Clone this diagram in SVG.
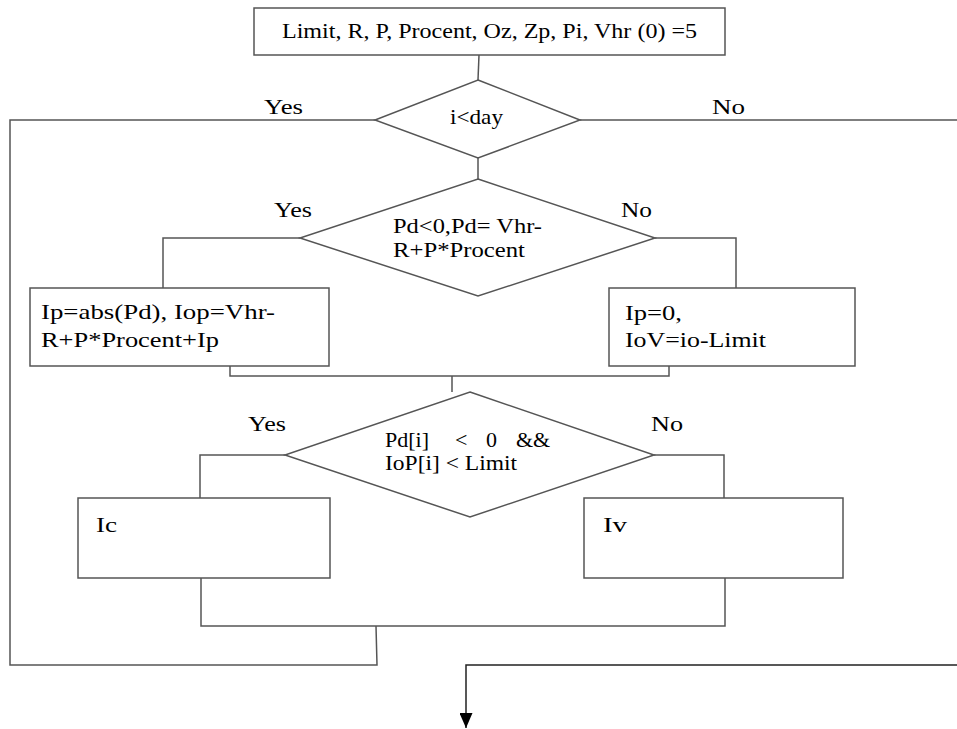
<svg xmlns="http://www.w3.org/2000/svg" width="957" height="729" viewBox="0 0 957 729">
<defs>
<style>
.s{fill:#fff;stroke:#555;stroke-width:1.5}
.c{fill:none;stroke:#555;stroke-width:1.5}
.t{font-family:'Liberation Serif','Times New Roman',serif;font-size:22px;fill:#000}
</style>
<marker id="ah" markerWidth="13" markerHeight="15" refX="6.5" refY="15" orient="0" markerUnits="userSpaceOnUse" viewBox="0 0 13 15">
<path d="M0,0 L13,0 L6.5,15 Z" fill="#000"/>
</marker>
</defs>
<rect width="957" height="729" fill="#fff"/>
<g id="connectors">
<path class="c" d="M479,55 L478,80"/>
<path class="c" d="M375,120 L10,120 L10,665 L377,665 L376,626"/>
<path class="c" d="M580,120 L957,120"/>
<path class="c" d="M478,158 L478,179"/>
<path class="c" d="M300,238 L163,238 L163,288"/>
<path class="c" d="M655,238 L736,238 L736,288"/>
<path class="c" d="M230,366 L230,376 L669,376 L669,366"/>
<path class="c" d="M452,376 L452,392"/>
<path class="c" d="M285,455 L200,455 L200,498"/>
<path class="c" d="M654,455 L724,455 L724,498"/>
<path class="c" d="M201,578 L201,626 L725,626 L725,578"/>
<path d="M957,665 L466,665 L466,728" fill="none" stroke="#222" stroke-width="1.5" marker-end="url(#ah)"/>
</g>
<g class="t">
<g id="init">
<rect class="s" x="254" y="8" width="471" height="47"/>
<text x="282" y="38" textLength="415" lengthAdjust="spacingAndGlyphs">Limit, R, P, Procent, Oz, Zp, Pi, Vhr (0) =5</text>
</g>
<g id="d1">
<polygon class="s" points="478,80 580,120 478,158 375,120"/>
<text x="450" y="124" textLength="53" lengthAdjust="spacingAndGlyphs">i&lt;day</text>
<text x="264" y="114" textLength="39" lengthAdjust="spacingAndGlyphs">Yes</text>
<text x="712" y="114" textLength="33" lengthAdjust="spacingAndGlyphs">No</text>
</g>
<g id="d2">
<polygon class="s" points="478,179 655,238 478,296 300,238"/>
<text x="393" y="233" textLength="149" lengthAdjust="spacingAndGlyphs">Pd&lt;0,Pd= Vhr-</text>
<text x="393" y="257" textLength="132" lengthAdjust="spacingAndGlyphs">R+P*Procent</text>
<text x="274" y="217" textLength="38" lengthAdjust="spacingAndGlyphs">Yes</text>
<text x="621" y="217" textLength="31" lengthAdjust="spacingAndGlyphs">No</text>
</g>
<g id="b1">
<rect class="s" x="30" y="288" width="299" height="78"/>
<text x="41" y="319" textLength="234" lengthAdjust="spacingAndGlyphs">Ip=abs(Pd), Iop=Vhr-</text>
<text x="41" y="347" textLength="178" lengthAdjust="spacingAndGlyphs">R+P*Procent+Ip</text>
</g>
<g id="b2">
<rect class="s" x="609" y="288" width="246" height="78"/>
<text x="625" y="320" textLength="57" lengthAdjust="spacingAndGlyphs">Ip=0,</text>
<text x="625" y="347" textLength="141" lengthAdjust="spacingAndGlyphs">IoV=io-Limit</text>
</g>
<g id="d3">
<polygon class="s" points="470,392 654,455 470,517 285,455"/>
<text y="447"><tspan x="385">Pd[i]</tspan><tspan x="455">&lt;</tspan><tspan x="486">0</tspan><tspan x="516">&amp;&amp;</tspan></text>
<text x="385" y="470" textLength="132" lengthAdjust="spacingAndGlyphs">IoP[i] &lt; Limit</text>
<text x="248" y="431" textLength="38" lengthAdjust="spacingAndGlyphs">Yes</text>
<text x="651" y="431" textLength="32" lengthAdjust="spacingAndGlyphs">No</text>
</g>
<g id="ic">
<rect class="s" x="78" y="498" width="252" height="80"/>
<text x="96" y="532" textLength="21" lengthAdjust="spacingAndGlyphs">Ic</text>
</g>
<g id="iv">
<rect class="s" x="584" y="498" width="259" height="80"/>
<text x="603" y="532" textLength="24" lengthAdjust="spacingAndGlyphs">Iv</text>
</g>
</g>
</svg>
